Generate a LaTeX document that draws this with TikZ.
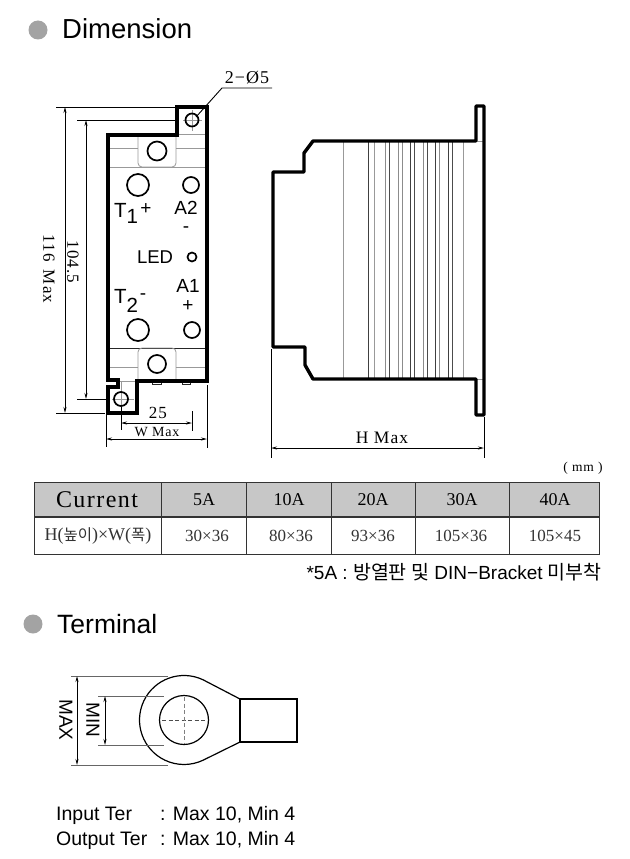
\documentclass[tikz,border=0pt]{standalone}
\usepackage{fontspec}
\usetikzlibrary{arrows.meta}
\setmainfont{Liberation Sans}
\newfontfamily\dimf[LetterSpace=6]{Liberation Serif}
\newfontfamily\serf{Liberation Serif}
\newfontfamily\kr{Noto Sans CJK KR}
\newcommand{\fsz}[1]{\fontsize{#1}{#1}\selectfont}
\tikzset{
  outl/.style={line width=3.4pt,line join=miter},
  thin gray/.style={line width=0.8pt,draw=black!40},
  fine/.style={line width=0.8pt,draw=black!85},
  ext/.style={line width=0.9pt,draw=black},
  dim/.style={line width=0.9pt,draw=black,{Stealth[length=6pt,width=3pt]}-{Stealth[length=6pt,width=3pt]}},
  hole/.style={circle,draw=black,line width=1.7pt,inner sep=0pt,fill=white},
  dtext/.style={inner sep=0pt,font=\dimf\fsz{17}},
  lab/.style={inner sep=0pt,font=\fsz{19}},
  tlab/.style={inner sep=0pt,anchor=base west,font=\fsz{20.5}},
  headbig/.style={inner sep=0pt,anchor=west,font=\fsz{27.5}},
  bullet/.style={circle,fill=black!36,draw=none,inner sep=0pt,minimum size=19pt},
  hdr/.style={draw=black!80,line width=1pt,fill=black!22},
  cell/.style={draw=black!80,line width=1pt,fill=white},
  thead/.style={inner sep=0pt,font=\serf\fsz{18}},
  tbody/.style={inner sep=0pt,font=\serf\fsz{17},text=black!80},
  termt/.style={inner sep=0pt,anchor=base west,font=\fsz{19.5}}
}
\begin{document}
\begin{tikzpicture}[x=1pt,y=-1pt]
\useasboundingbox (0,0) rectangle (629,859);
\fill[white] (0,0) rectangle (629,859);
% headings
\node[bullet] (b1) at (38,30) {};
\node[headbig] (t1) at (62,29) {Dimension};
\node[bullet] (b2) at (33,624) {};
\node[headbig,font=\fsz{26.5}] (t2) at (57,624) {Terminal};
% LEFT VIEW: interior
\draw[thin gray] (108,148) -- (138,148) (176,148) -- (207,148);
\draw[thin gray] (108,167) -- (207,167);
\draw[thin gray] (177,134) -- (207,134);
\draw[thin gray,rounded corners=4pt] (138,135) -- (138,167) -- (176,167) -- (176,135);
\draw[fine] (108,348) -- (207,348);
\draw[thin gray] (108,367) -- (138,367) (176,367) -- (207,367);
\draw[thin gray,rounded corners=4pt] (138,381) -- (138,348) -- (176,348) -- (176,381);
\draw[thin gray] (119,381) -- (137,381);
\draw[thin gray] (121,381) -- (121,390);
\draw[fine] (152,381) rectangle (161,384) (182,381) rectangle (190,384);
% cross lines of the holes
\draw[thin gray] (183,120) -- (202,120) (192,110) -- (192,131);
\draw[thin gray] (112,399) -- (134,399) (121,389) -- (121,409);
% outline
\draw[outl] (177,135) -- (177,107) -- (207,107) -- (207,381) -- (137,381) -- (137,413) -- (108,413) -- (108,387) -- (118,387) -- (118,380) -- (108,380) -- (108,135) -- cycle;
% holes
\node[hole,minimum size=19pt] (h1) at (157,151) {};
\node[hole,minimum size=18pt] (h2) at (157,364) {};
\node[hole,minimum size=13pt,fill=none] (h3) at (192,120) {};
\node[hole,minimum size=14pt,fill=none] (h4) at (121,399) {};
\node[hole,minimum size=22pt] (t1h) at (138,185) {};
\node[hole,minimum size=22pt] (t2h) at (138,330) {};
\node[hole,minimum size=16pt] (a2h) at (191,185) {};
\node[hole,minimum size=16pt] (a1h) at (192,330) {};
\node[hole,minimum size=9pt] (ledh) at (192,257) {};
% labels
\node[tlab] (t1l) at (114,217) {T\raisebox{-6.5pt}{1}};
\node[lab] (t1p) at (146,209) {+};
\node[lab] (a2l) at (186,208) {A2};
\node[lab] (a2m) at (186,230) {-};
\node[lab,font=\fsz{18.5}] (ledl) at (155,257) {LED};
\node[lab] (a1l) at (188,286) {A1};
\node[lab] (a1p) at (188,306) {+};
\node[tlab] (t2l) at (114,303) {T\raisebox{-9pt}{2}};
\node[lab] (t2m) at (143,297) {-};
% leader
\node[dtext,font=\dimf\fsz{18}] (phi) at (247,78) {2−Ø5};
\coordinate (l0) at (196,117);
\coordinate (l1) at (222,88);
\coordinate (l2) at (272,88);
\draw[ext] (l0) -- (l1) -- (l2);
% dimensions: vertical
\coordinate (e1a) at (56,107); \coordinate (e1b) at (175,107);
\coordinate (e2a) at (77,120); \coordinate (e2b) at (175,120);
\coordinate (e3a) at (77,399); \coordinate (e3b) at (107,399);
\coordinate (e4a) at (56,413); \coordinate (e4b) at (105,413);
\draw[ext] (e1a) -- (e1b); \draw[ext] (e2a) -- (e2b);
\draw[ext] (e3a) -- (e3b); \draw[ext] (e4a) -- (e4b);
\coordinate (d1a) at (65,107); \coordinate (d1b) at (65,413);
\coordinate (d2a) at (86,120); \coordinate (d2b) at (86,399);
\draw[dim] (d1a) -- (d1b);
\draw[dim] (d2a) -- (d2b);
\node[dtext,rotate=-90] (l116) at (49,269) {116\hspace{3pt} Max};
\node[dtext,rotate=-90] (l104) at (73,262) {104.5};
% dimensions: horizontal under left view
\coordinate (x1a) at (121,407); \coordinate (x1b) at (121,430);
\coordinate (x2a) at (192,411); \coordinate (x2b) at (192,431);
\coordinate (x3a) at (106,415); \coordinate (x3b) at (106,447);
\coordinate (x4a) at (207,385); \coordinate (x4b) at (207,448);
\draw[ext] (x1a) -- (x1b); \draw[ext] (x2a) -- (x2b);
\draw[ext] (x3a) -- (x3b); \draw[ext] (x4a) -- (x4b);
\coordinate (d3a) at (121,423); \coordinate (d3b) at (192,423);
\coordinate (d4a) at (106,439); \coordinate (d4b) at (207,439);
\draw[dim] (d3a) -- (d3b);
\draw[dim] (d4a) -- (d4b);
\node[dtext] (l25) at (158,413) {25};
\node[dtext,font=\dimf\fsz{14}] (lw) at (157,432) {W Max};
% RIGHT VIEW
\foreach \xx/\cc in {343.3/40,368.3/75,374.7/40,385.3/45,389.3/70,398/45,402.3/45,410.3/75,414.3/70,423/45,427.3/70,435.7/75,439.7/45,448.3/75,452.3/70,463/40}{
  \draw[line width=0.8pt,draw=black!\cc] (\xx,141) -- (\xx,379);
}
\draw[thin gray] (476,141) -- (484,141) (476,379) -- (484,379);
\draw[outl,line join=round] (484,106) -- (476,106) -- (476,141) -- (313,141) -- (304,153) -- (304,172) -- (273,172) -- (273,347) -- (305,347) -- (305,365) -- (313,379) -- (476,379) -- (476,415) -- (484,415) -- cycle;
\coordinate (y1a) at (271,349); \coordinate (y1b) at (271,458);
\coordinate (y2a) at (484,417); \coordinate (y2b) at (484,458);
\draw[ext] (y1a) -- (y1b); \draw[ext] (y2a) -- (y2b);
\coordinate (d5a) at (271,448); \coordinate (d5b) at (484,448);
\draw[dim] (d5a) -- (d5b);
\node[dtext,font=\dimf\fsz{17.5}] (lh) at (382,438) {H Max};
\node[dtext,font=\dimf\fsz{13.5}] (lmm) at (583,468) {( mm )};
% TABLE
\foreach \a/\b/\n in {34/161/a,161/246/b,246/331/c,331/415/d,415/509/e,509/599/f}{
  \draw[hdr] (\a,482) rectangle (\b,517);
  \draw[cell] (\a,517) rectangle (\b,554);
}
\draw[line width=1.4pt,draw=black!80] (34,517) -- (599,517);
\node[thead,font=\dimf\fsz{24}] (hc) at (97,500) {Current};
\node[thead] (h5) at (204,500) {5A};
\node[thead] (h10) at (289,500) {10A};
\node[thead] (h20) at (373,500) {20A};
\node[thead] (h30) at (462,500) {30A};
\node[thead] (h40) at (555,500) {40A};
\node[tbody,font=\serf\fsz{18}] (c0) at (98,536) {H({\kr\fsz{15.5}높이})×W({\kr\fsz{15.5}폭})};
\node[tbody] (c5) at (207,536) {30×36};
\node[tbody] (c10) at (291,536) {80×36};
\node[tbody] (c20) at (373,536) {93×36};
\node[tbody] (c30) at (461,536) {105×36};
\node[tbody] (c40) at (555,536) {105×45};
\node[inner sep=0pt,anchor=east,font=\fsz{19}] (note) at (602,572) {*5A : {\kr\fsz{19.5}방열판 및} DIN−Bracket {\kr\fsz{19.5}미부착}};
% TERMINAL
\draw[line width=1.2pt] (240,699) -- (203.1,679.8) arc[start angle=64.6,end angle=295.4,radius=44.5pt] -- (240,742);
\draw[line width=1.2pt] (240,699) rectangle (297,742);
\node[circle,draw=black,line width=1.2pt,inner sep=0pt,minimum size=49pt] (ring) at (184,720) {};
\draw[line width=0.7pt,draw=black!70,dash pattern=on 4pt off 2.5pt] (162,720) -- (207,720);
\draw[line width=0.7pt,draw=black!50,dash pattern=on 4pt off 2.5pt] (184,697) -- (184,744);
\coordinate (m1a) at (71,676); \coordinate (m1b) at (168,676);
\coordinate (m2a) at (71,765); \coordinate (m2b) at (168,765);
\coordinate (n1a) at (98,696); \coordinate (n1b) at (164,696);
\coordinate (n2a) at (98,745); \coordinate (n2b) at (164,745);
\draw[thin gray,draw=black!60] (m1a) -- (m1b); \draw[thin gray,draw=black!60] (m2a) -- (m2b);
\draw[thin gray,draw=black!60] (n1a) -- (n1b); \draw[thin gray,draw=black!60] (n2a) -- (n2b);
\coordinate (m3a) at (77,676); \coordinate (m3b) at (77,765);
\coordinate (n3a) at (105,696); \coordinate (n3b) at (105,745);
\draw[dim] (m3a) -- (m3b);
\draw[dim] (n3a) -- (n3b);
\node[inner sep=0pt,rotate=-90,font=\fsz{19}] (lmax) at (66,720) {MAX};
\node[inner sep=0pt,rotate=-90,font=\fsz{19}] (lmin) at (93,720) {MIN};
\node[termt] (i1) at (56,820) {Input Ter};
\node[termt] (i2) at (160,820) {: Max 10, Min 4};
\node[termt] (o1) at (56,845) {Output Ter};
\node[termt] (o2) at (160,845) {: Max 10, Min 4};
\end{tikzpicture}
\end{document}
